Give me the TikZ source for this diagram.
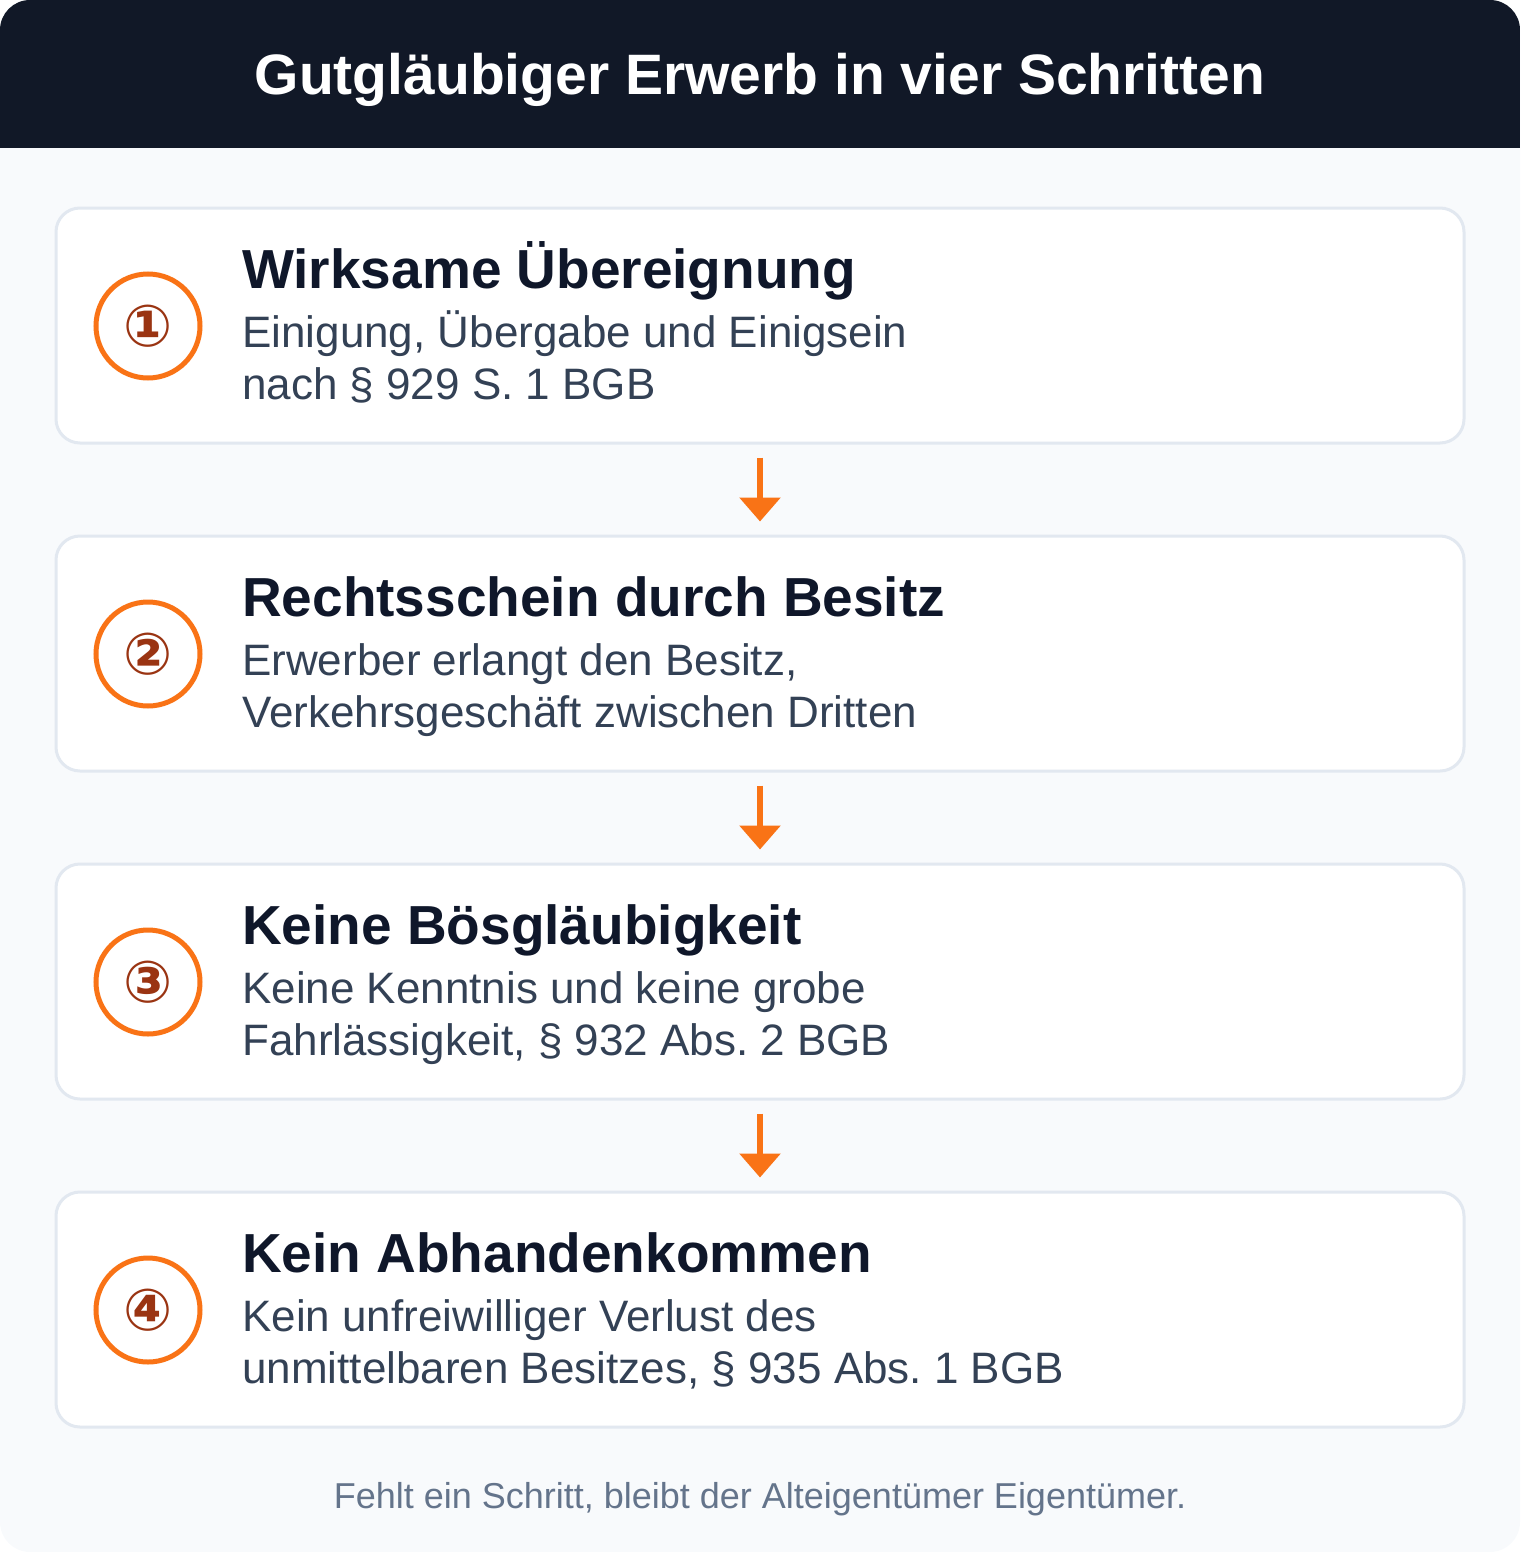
\documentclass[tikz,border=0pt]{standalone}
\usepackage{fontspec}
\setmainfont{Liberation Sans}
\newfontfamily\circfont{DejaVu Sans}
\usepackage{tikz}
\usetikzlibrary{arrows.meta, shapes, positioning}
\frenchspacing

\definecolor{headbg}{HTML}{111827}
\definecolor{pagebg}{HTML}{F8FAFC}
\definecolor{cardline}{HTML}{E2E8F0}
\definecolor{stepor}{HTML}{F97316}
\definecolor{numbrown}{HTML}{9A3412}
\definecolor{titleink}{HTML}{0F172A}
\definecolor{bodyink}{HTML}{334155}
\definecolor{noteink}{HTML}{64748B}

\tikzset{
  card/.style={draw=cardline, line width=3pt, fill=white, rounded corners=24pt,
    minimum width=1408pt, minimum height=235pt, inner sep=0pt},
  numring/.style={circle, draw=stepor, line width=5pt, fill=white, minimum size=104pt,
    inner sep=0pt, text=numbrown, font=\circfont\bfseries\fontsize{58}{58}\selectfont},
  cardtitle/.style={anchor=base west, inner sep=0pt, text=titleink,
    font=\bfseries\fontsize{55}{55}\selectfont},
  cardtext/.style={anchor=base west, inner sep=0pt, text=bodyink,
    font=\fontsize{44}{44}\selectfont},
  steparrow/.style={-{Triangle[width=40pt,length=24pt]}, draw=stepor, line width=6pt,
    shorten <=13pt, shorten >=13pt}
}

\begin{document}
\begin{tikzpicture}[x=1pt, y=-1pt]
\useasboundingbox (0,0) rectangle (1520,1552);
\fill [pagebg, rounded corners=30pt] (0,0) rectangle (1520,1552);
\begin{scope}
\clip [rounded corners=30pt] (0,0) rectangle (1520,1552);
\fill [headbg] (0,0) rectangle (1520,148);
\end{scope}
\node [anchor=base, inner sep=0pt, text=white, font=\bfseries\fontsize{57}{57}\selectfont] (head) at (760,95) {Gutgläubiger Erwerb in vier Schritten};

\node [card] (card1) at (760,325.5) {};
\node [card] (card2) at (760,653.5) {};
\node [card] (card3) at (760,981.5) {};
\node [card] (card4) at (760,1309.5) {};

\node [numring] (num1) at (148,326) {①};
\node [cardtitle] (title1) at (242,288) {Wirksame Übereignung};
\node [cardtext] (texta1) at (242,347) {Einigung, Übergabe und Einigsein};
\node [cardtext] (textb1) at (242,399) {nach § 929 S. 1 BGB};

\node [numring] (num2) at (148,654) {②};
\node [cardtitle] (title2) at (242,616) {Rechtsschein durch Besitz};
\node [cardtext] (texta2) at (242,675) {Erwerber erlangt den Besitz,};
\node [cardtext] (textb2) at (242,727) {Verkehrsgeschäft zwischen Dritten};

\node [numring] (num3) at (148,982) {③};
\node [cardtitle] (title3) at (242,944) {Keine Bösgläubigkeit};
\node [cardtext] (texta3) at (242,1003) {Keine Kenntnis und keine grobe};
\node [cardtext] (textb3) at (242,1055) {Fahrlässigkeit, § 932 Abs. 2 BGB};

\node [numring] (num4) at (148,1310) {④};
\node [cardtitle] (title4) at (242,1272) {Kein Abhandenkommen};
\node [cardtext] (texta4) at (242,1331) {Kein unfreiwilliger Verlust des};
\node [cardtext] (textb4) at (242,1383) {unmittelbaren Besitzes, § 935 Abs. 1 BGB};

\draw [steparrow] (card1.south) -- (card2.north);
\draw [steparrow] (card2.south) -- (card3.north);
\draw [steparrow] (card3.south) -- (card4.north);

\node [anchor=base, inner sep=0pt, text=noteink, font=\fontsize{36}{36}\selectfont] (note) at (760,1508) {Fehlt ein Schritt, bleibt der Alteigentümer Eigentümer.};
\end{tikzpicture}
\end{document}
